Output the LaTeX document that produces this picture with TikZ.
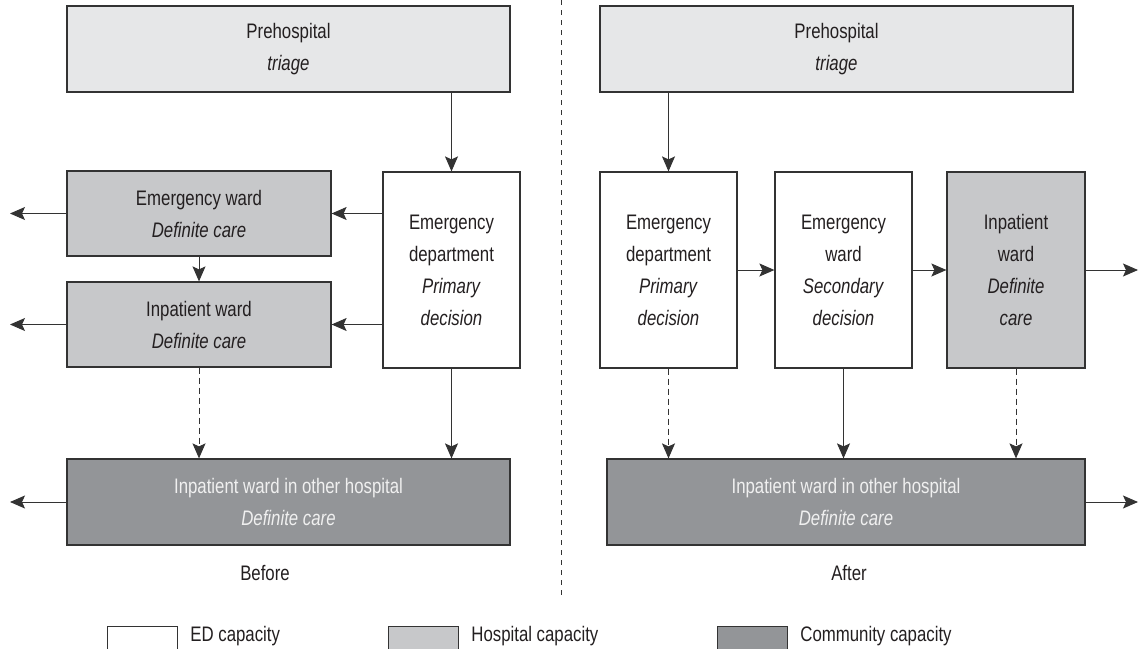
\documentclass[tikz,border=0pt]{standalone}
\usepackage{fontspec}
\setmainfont{Liberation Sans}[FakeStretch=0.8]
\usepackage{xcolor}
\usetikzlibrary{arrows.meta, positioning, calc}
\definecolor{pregray}{HTML}{E6E7E8}
\definecolor{hospgray}{HTML}{C7C8CA}
\definecolor{commgray}{HTML}{939598}
\definecolor{edgegray}{HTML}{333333}
\definecolor{inkgray}{HTML}{231F20}

\begin{document}
\begin{tikzpicture}[x=0.5pt, y=-0.5pt, >={Stealth[length=7.5pt,width=6.5pt,inset=1.5pt]},
	font=\fontsize{10.5pt}{16pt}\selectfont, text=inkgray,
	box/.style={draw=edgegray, line width=0.6pt, align=center, inner sep=0pt},
	prebox/.style={box, fill=pregray, minimum width=221.5pt, minimum height=43pt},
	edbox/.style={box, fill=white, minimum width=68.5pt, minimum height=98pt},
	hospbox/.style={box, fill=hospgray, minimum width=132pt, minimum height=42.5pt},
	commbox/.style={box, fill=commgray, text=white!94!black, minimum width=221.5pt, minimum height=43pt},
	flow/.style={->, draw=black!80, line width=0.5pt},
	dflow/.style={flow, dash pattern=on 3pt off 2pt},
	divider/.style={draw=black!80, line width=0.4pt, dash pattern=on 2.5pt off 2.5pt}]
	\useasboundingbox (0,0) rectangle (1140,648);
	\coordinate (exitL) at (10,0);
	\coordinate (exitR) at (1138,0);
	% before
	\node[prebox] (preL) at (288.5,49) {Prehospital\\\textit{triage}};
	\node[edbox] (edL) at (451.5,270) {Emergency\\department\\\textit{Primary}\\\textit{decision}};
	\node[hospbox] (ewL) at (199,213.5) {Emergency ward\\\textit{Definite care}};
	\node[hospbox] (iwL) at (199,324.5) {Inpatient ward\\\textit{Definite care}};
	\node[commbox] (ohL) at (288.5,502) {Inpatient ward in other hospital\\\textit{Definite care}};
	\node (before) at (265,573) {Before};
	\draw[flow] (edL.north |- preL.south) -- (edL.north);
	\draw[flow] (edL.west |- ewL.east) -- (ewL.east);
	\draw[flow] (edL.west |- iwL.east) -- (iwL.east);
	\draw[flow] (ewL.south) -- (iwL.north);
	\draw[flow] (ewL.west) -- (ewL.west -| exitL);
	\draw[flow] (iwL.west) -- (iwL.west -| exitL);
	\draw[dflow] (iwL.south) -- (iwL.south |- ohL.north);
	\draw[flow] (edL.south) -- (edL.south |- ohL.north);
	\draw[flow] (ohL.west) -- (ohL.west -| exitL);
	% after
	\node[prebox, minimum width=236.5pt] (preR) at (836.5,49) {Prehospital\\\textit{triage}};
	\node[edbox] (edR) at (668.5,270) {Emergency\\department\\\textit{Primary}\\\textit{decision}};
	\node[edbox] (ewR) at (843.5,270) {Emergency\\ward\\\textit{Secondary}\\\textit{decision}};
	\node[hospbox, minimum width=69pt, minimum height=98pt] (iwR) at (1016,270) {Inpatient\\ward\\\textit{Definite}\\\textit{care}};
	\node[commbox, minimum width=239pt] (ohR) at (846,502) {Inpatient ward in other hospital\\\textit{Definite care}};
	\node (after) at (849,573) {After};
	\draw[flow] (edR.north |- preR.south) -- (edR.north);
	\draw[flow] (edR.east) -- (ewR.west);
	\draw[flow] (ewR.east) -- (iwR.west);
	\draw[flow] (iwR.east) -- (iwR.east -| exitR);
	\draw[dflow] (edR.south) -- (edR.south |- ohR.north);
	\draw[flow] (ewR.south) -- (ewR.south |- ohR.north);
	\draw[dflow] (iwR.south) -- (iwR.south |- ohR.north);
	\draw[flow] (ohR.east) -- (ohR.east -| exitR);
	\draw[divider] (561,0) -- (561,596);
	% legend
	\foreach \i/\x/\c/\t in {1/107/white/ED capacity, 2/388/hospgray/Hospital capacity, 3/717/commgray/Community capacity}{
		\node[box, fill=\c, minimum width=35pt, minimum height=14pt, anchor=north west] (key\i) at (\x,626) {};
		\node[anchor=west, inner sep=0pt] (keytext\i) at (\x+83,636) {\t};
	}
\end{tikzpicture}
\end{document}
